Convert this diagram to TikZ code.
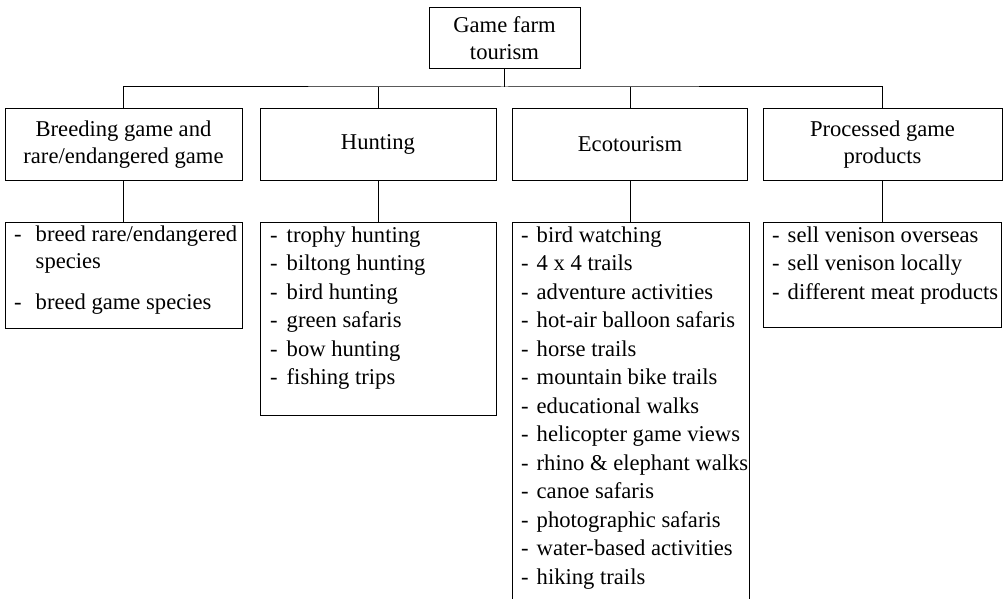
\documentclass[tikz,border=0pt]{standalone}
\usepackage{fontspec}
\setmainfont{Liberation Serif}
\begin{document}
\begin{tikzpicture}[x=1pt,y=-1pt,
  box/.style={draw=black,line width=1pt,inner sep=0pt},
  head/.style={box,align=center,font=\fontsize{22.6}{27}\selectfont},
  listtext/.style={anchor=north west,inner sep=0pt,align=left,font=\fontsize{22.6}{28.5}\selectfont},
  link/.style={draw=black,line width=1pt}]
\clip (0,0) rectangle (1004,599);
% top
\node[head,minimum width=151pt,minimum height=61pt] (top) at (504.5,38.5) {Game farm\\tourism};
% headings
\node[head,minimum width=237pt,minimum height=71pt] (h1) at (123.5,144.5) {Breeding game and\\rare/endangered game};
\node[head,minimum width=236pt,minimum height=71pt] (h2) at (378,144.5) {Hunting};
\node[head,minimum width=235pt,minimum height=71pt] (h3) at (630,144.5) {Ecotourism};
\node[head,minimum width=239pt,minimum height=71pt] (h4) at (882.5,144.5) {Processed game\\products};
% list boxes
\node[box,anchor=north west,minimum width=237pt,minimum height=106pt] (l1) at (5,222) {};
\node[box,anchor=north west,minimum width=236pt,minimum height=193pt] (l2) at (260,222) {};
\node[box,anchor=north west,minimum width=237pt,minimum height=420pt] (l3) at (512,222) {};
\node[box,anchor=north west,minimum width=238pt,minimum height=105pt] (l4) at (763,222) {};
% connectors
\coordinate (bus) at (504.5,87);
\draw[link] (top.south) -- (bus);
\draw[link] (h1.north) |- (bus) -| (h4.north);
\draw[link] (h2.north) -- (h2.north |- bus);
\draw[link] (h3.north) -- (h3.north |- bus);
\draw[link] (h1.south) -- (l1.north -| h1.south);
\draw[link] (h2.south) -- (l2.north -| h2.south);
\draw[link] (h3.south) -- (l3.north -| h3.south);
\draw[link] (h4.south) -- (l4.north -| h4.south);
% list texts
\node[listtext,font=\fontsize{22.6}{27}\selectfont] (t1) at (14,222) {\begin{tabular}{@{}l@{\hspace{14pt}}l@{}}-&breed rare/endangered\\ &species\\[14pt]-&breed game species\end{tabular}};
\node[listtext] (t2) at (270,222) {\begin{tabular}{@{}l@{\hspace{9pt}}l@{}}-&trophy hunting\\-&biltong hunting\\-&bird hunting\\-&green safaris\\-&bow hunting\\-&fishing trips\end{tabular}};
\node[listtext] (t3) at (521,222) {\begin{tabular}{@{}l@{\hspace{8pt}}l@{}}-&bird watching\\-&4 x 4 trails\\-&adventure activities\\-&hot-air balloon safaris\\-&horse trails\\-&mountain bike trails\\-&educational walks\\-&helicopter game views\\-&rhino \& elephant walks\\-&canoe safaris\\-&photographic safaris\\-&water-based activities\\-&hiking trails\end{tabular}};
\node[listtext] (t4) at (772,222) {\begin{tabular}{@{}l@{\hspace{8pt}}l@{}}-&sell venison overseas\\-&sell venison locally\\-&different meat products\end{tabular}};
\end{tikzpicture}
\end{document}
